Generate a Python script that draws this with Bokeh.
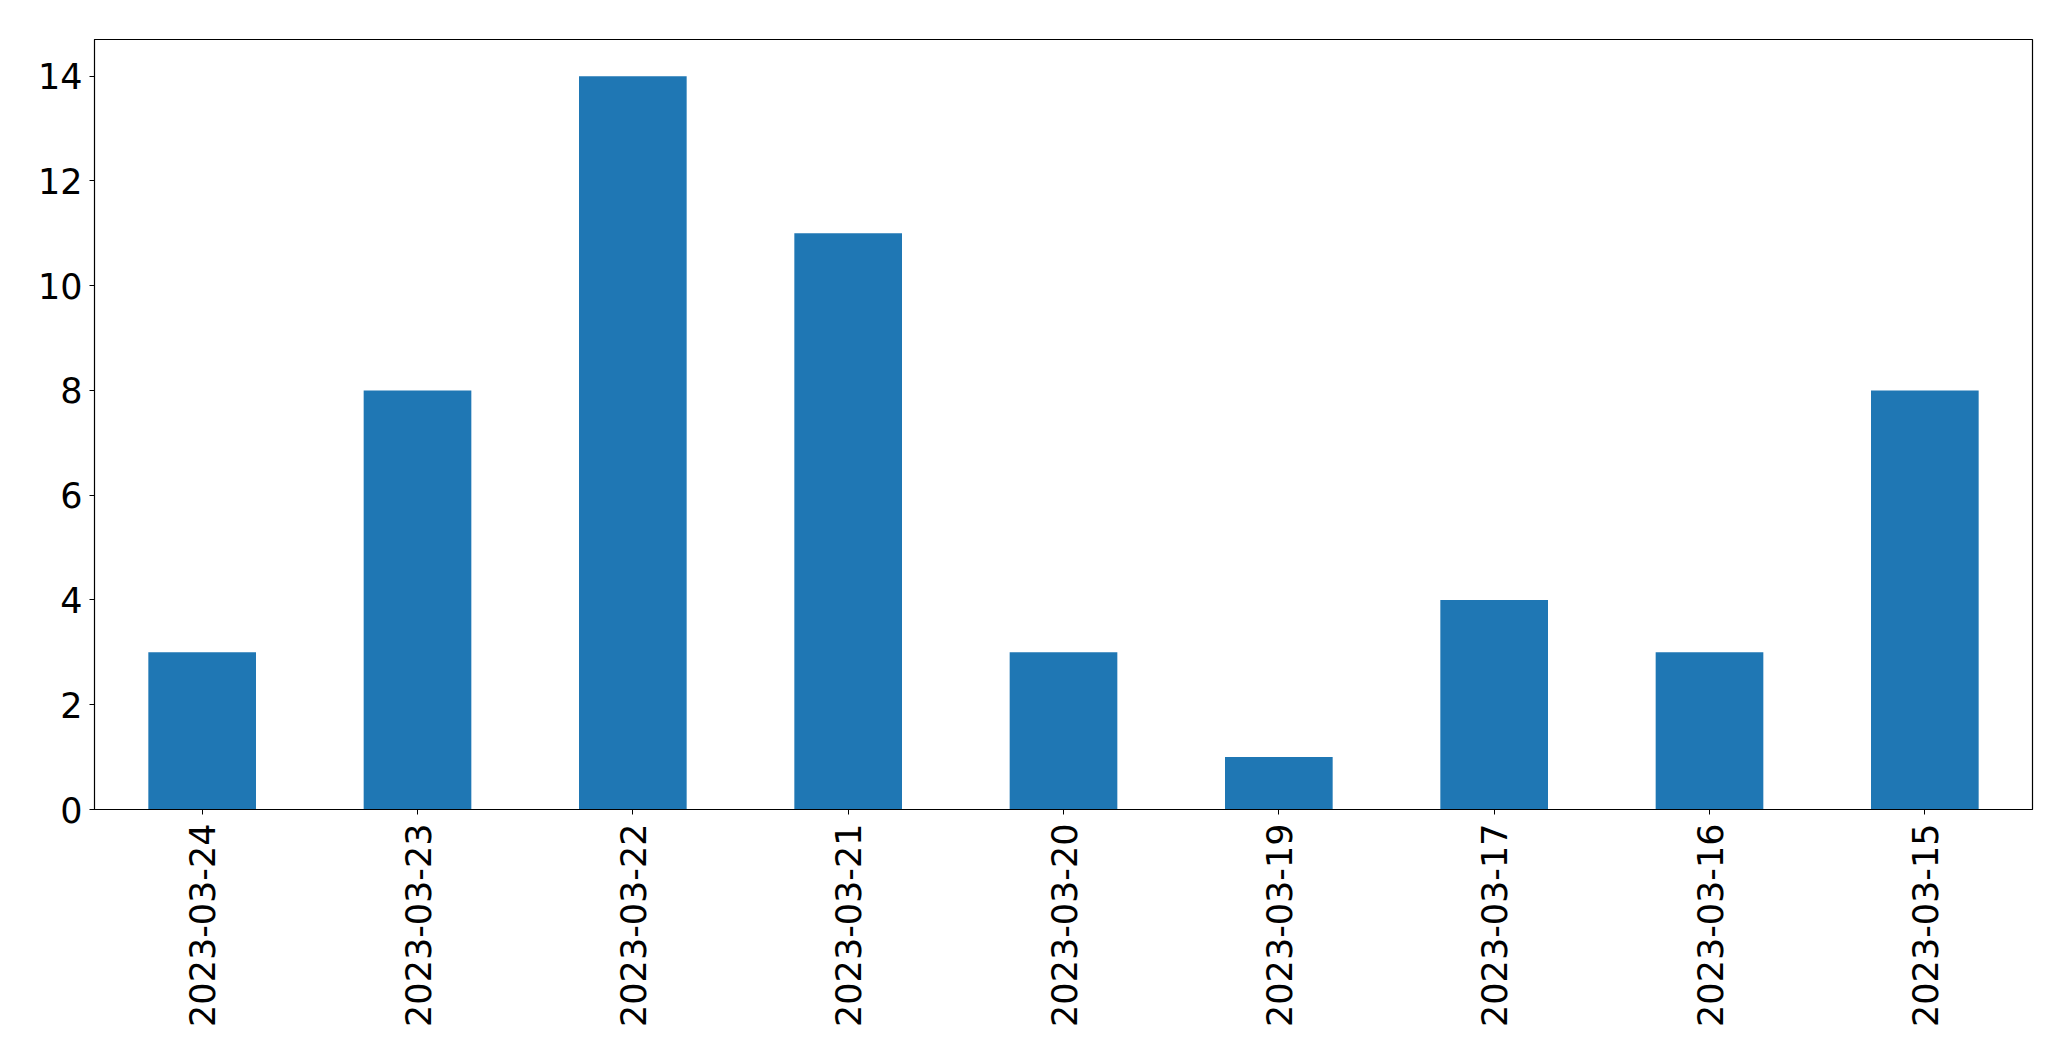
import math
from bokeh.plotting import figure
from bokeh.models import Range1d, FactorRange, SingleIntervalTicker, ColumnDataSource
from bokeh.embed import file_html
from bokeh.resources import INLINE

dates = ["2023-03-24", "2023-03-23", "2023-03-22", "2023-03-21", "2023-03-20",
         "2023-03-19", "2023-03-17", "2023-03-16", "2023-03-15"]
counts = [3, 8, 14, 11, 3, 1, 4, 3, 8]

src = ColumnDataSource(data=dict(x=dates, top=counts))

W, H = 2055, 1045
p = figure(width=W, height=H, x_range=FactorRange(factors=dates),
           y_range=Range1d(0, 14.7), output_backend="svg", toolbar_location=None,
           min_border_left=94, min_border_right=W - 2032,
           min_border_top=39, min_border_bottom=H - 809)

p.vbar(x="x", top="top", width=0.5, source=src, color="#1f77b4", line_color=None)

p.xgrid.visible = False
p.ygrid.visible = False
p.outline_line_color = "black"
p.outline_line_width = 1.2
p.outline_line_alpha = 1.0

for ax in (p.xaxis[0], p.yaxis[0]):
    ax.axis_line_color = "black"
    ax.major_tick_line_color = "black"
    ax.major_tick_out = 5
    ax.major_tick_in = 0
    ax.minor_tick_line_color = None
    ax.major_label_text_font = "DejaVu Sans"
    ax.major_label_text_font_size = "35px"
    ax.major_label_text_color = "black"

p.yaxis[0].ticker = SingleIntervalTicker(interval=2)
p.yaxis[0].major_label_standoff = 7
p.xaxis[0].major_label_orientation = math.pi / 2
p.xaxis[0].major_label_standoff = 9
p.xaxis[0].group_text_font_size = "0px"

open("out.html", "w").write(file_html(p, INLINE))
